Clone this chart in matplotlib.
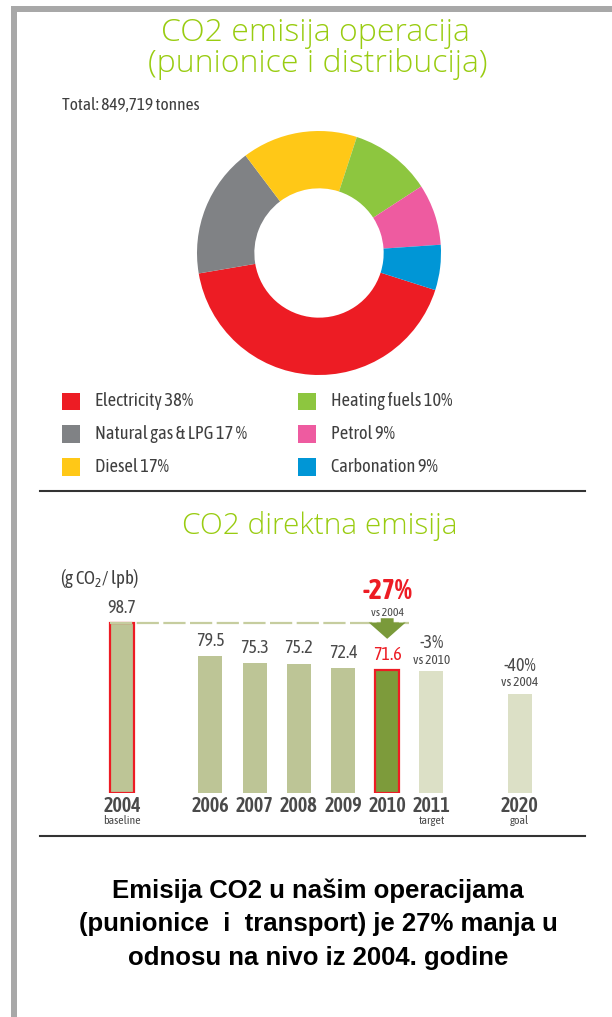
import matplotlib
matplotlib.use('Agg')
import matplotlib.pyplot as plt
import matplotlib.transforms as mtransforms
from matplotlib.patches import Rectangle
from matplotlib.lines import Line2D

# --- data ---------------------------------------------------------------
categories = ['Electricity 38%', 'Natural gas & LPG 17 %', 'Diesel 17%',
              'Heating fuels 10%', 'Petrol 9%', 'Carbonation 9%']
# slice sizes as drawn in the picture (%)
shares = [42.4, 17.4, 15.3, 10.8, 8.1, 6.0]
slice_colors = ['#ED1C24', '#808285', '#FFC817', '#8DC63F', '#EE5BA0', '#0096D6']

years = ['2004', '2006', '2007', '2008', '2009', '2010', '2011', '2020']
sublabels = ['baseline', '', '', '', '', '', 'target', 'goal']
values = [98.7, 79.5, 75.3, 75.2, 72.4, 71.6, 70.8, 57.5]
value_labels = ['98.7', '79.5', '75.3', '75.2', '72.4', '71.6', '', '']
slots = [0, 2, 3, 4, 5, 6, 7, 9]
change_labels = {6: ('-3%', 'vs 2010'), 7: ('-40%', 'vs 2004')}

W, H = 612, 1017
GREEN_TITLE = '#99CC11'
TXT = '#3f3f3f'
GREY = '#4a4a4a'
NARROW = ['Asap Condensed', 'Archivo Narrow', 'Liberation Sans']
TITLE_FONT = ['Open Sans', 'DejaVu Sans']

plt.rcParams['font.family'] = ['Liberation Sans', 'DejaVu Sans']

fig = plt.figure(figsize=(W / 100, H / 100), dpi=100)
fig.patch.set_facecolor('white')

def fx(x):
  return x / W

def fy(y):
  return 1 - y / H

# frame (top and left gray band)
fig.add_artist(Rectangle((fx(11), fy(12)), 1, 6 / H, transform=fig.transFigure,
                         facecolor='#A8A8A8', edgecolor='none'))
fig.add_artist(Rectangle((fx(11), 0), 6 / W, fy(6), transform=fig.transFigure,
                         facecolor='#A8A8A8', edgecolor='none'))

# titles
fig.text(fx(315), fy(33), 'CO2 emisija operacija', ha='center', va='center',
         fontsize=23, color=GREEN_TITLE, family=TITLE_FONT, fontweight=300)
fig.text(fx(318), fy(64), '(punionice i distribucija)', ha='center', va='center',
         fontsize=23, color=GREEN_TITLE, family=TITLE_FONT, fontweight=300)
fig.text(fx(62), fy(105), 'Total: 849,719 tonnes', ha='left', va='center',
         fontsize=12.5, color=TXT, family=NARROW)

# --- donut -------------------------------------------------------------
ax1 = fig.add_axes([fx(319 - 125), fy(253 + 125), 250 / W, 250 / H])
r = 122 / 125
ax1.pie(shares, colors=slice_colors, startangle=-17.7, counterclock=False,
        radius=r, wedgeprops=dict(width=0.47 * r, linewidth=0))
ax1.set_xlim(-1, 1)
ax1.set_ylim(-1, 1)
ax1.set_aspect('equal')
ax1.axis('off')

# legend, two columns of three
for i, (lab, col) in enumerate(zip(categories, slice_colors)):
  colx = 62 if i < 3 else 298
  rowy = 401 + (i % 3) * 33
  fig.add_artist(Rectangle((fx(colx), fy(rowy + 8.5)), 18 / W, 17 / H,
                           transform=fig.transFigure, facecolor=col, edgecolor='none'))
  fig.text(fx(colx + 33), fy(rowy), lab, ha='left', va='center',
           fontsize=13.2, color=TXT, family=NARROW)

# separators
for yy in [491, 836]:
  fig.add_artist(Line2D([fx(40), fx(585)], [fy(yy), fy(yy)], transform=fig.transFigure,
                        color='#333333', lw=1.5))

fig.text(fx(320), fy(526), 'CO2 direktna emisija', ha='center', va='center',
         fontsize=21.5, color=GREEN_TITLE, family=TITLE_FONT, fontweight=300)

# --- bars --------------------------------------------------------------
base_y, px_per_unit = 793, 1.72
x0, step = 122, 44.2
top_px = 600
ax2 = fig.add_axes([fx(60), fy(base_y), 520 / W, (base_y - top_px) / H])
ax2.set_xlim((60 - x0) / step, (580 - x0) / step)
ax2.set_ylim(0, (base_y - top_px) / px_per_unit)
ax2.axis('off')

face = ['#BDC596'] * 5 + ['#7D9B3B', '#DCE0C6', '#DCE0C6']
edge = ['#ED1C24', 'none', 'none', 'none', 'none', '#ED1C24', 'none', 'none']
for s, v, fc, ec in zip(slots, values, face, edge):
  ax2.bar(s, v, width=0.54, color=fc, edgecolor=ec, linewidth=1.6 if ec != 'none' else 0)

# dashed baseline reference
ax2.hlines(values[0], slots[0] - 0.27, 6.5, colors='#C6CD9F', linewidth=1.6,
           linestyles=(0, (10, 2)), zorder=1)

for i, (s, v) in enumerate(zip(slots, values)):
  col = '#ED1C24' if years[i] == '2010' else GREY
  if value_labels[i]:
    ax2.annotate(value_labels[i], (s, v), xytext=(0, 11), textcoords='offset points',
                 ha='center', va='center', fontsize=13, color=col, family=NARROW)
  if i in change_labels:
    big, small = change_labels[i]
    ax2.annotate(big, (s, v), xytext=(0, 20), textcoords='offset points',
                 ha='center', va='center', fontsize=13, color=GREY, family=NARROW)
    ax2.annotate(small, (s, v), xytext=(0, 8), textcoords='offset points',
                 ha='center', va='center', fontsize=9.5, color=GREY, family=NARROW)
  ax2.annotate(years[i], (s, 0), xytext=(0, -9), textcoords='offset points',
               ha='center', va='center', fontsize=14.5, color=GREY,
               family=NARROW, fontweight=600)
  if sublabels[i]:
    ax2.annotate(sublabels[i], (s, 0), xytext=(0, -20), textcoords='offset points',
                 ha='center', va='center', fontsize=8.5, color=GREY, family=NARROW)

# -27% callout over 2010
i10 = years.index('2010')
ax2.annotate('-27%', (slots[i10], values[0]), xytext=(0, 23), textcoords='offset points',
             ha='center', va='center', fontsize=20, color='#ED1C24', fontweight='bold',
             family=NARROW)
ax2.annotate('vs 2004', (slots[i10], values[0]), xytext=(0, 8), textcoords='offset points',
             ha='center', va='center', fontsize=8.5, color=GREY, family=NARROW)
tail = ax2.transData + mtransforms.ScaledTranslation(0, 0.05, fig.dpi_scale_trans)
tip = ax2.transData + mtransforms.ScaledTranslation(0, 0.31, fig.dpi_scale_trans)
ax2.annotate('', xy=(slots[i10], values[i10]), xycoords=tip,
             xytext=(slots[i10], values[0]), textcoords=tail,
             arrowprops=dict(arrowstyle='simple,head_width=0.95,head_length=0.42,tail_width=0.33',
                             mutation_scale=28, color='#7A9A3A', shrinkA=0, shrinkB=0,
                             linewidth=0))

fig.text(fx(60), fy(578), r'(g CO$\mathregular{_2}$/ lpb)', ha='left', va='center',
         fontsize=13.5, color=TXT, family=NARROW)

# --- bottom statement ---------------------------------------------------
bottom_lines = ['Emisija CO2 u našim operacijama',
                '(punionice  i  transport) je 27% manja u',
                'odnosu na nivo iz 2004. godine']
for k, line in enumerate(bottom_lines):
  fig.text(fx(318), fy(891 + k * 33.5), line, ha='center', va='center',
           fontsize=18.5, fontweight='bold', color='black')

fig.savefig('out.png', dpi=100)
